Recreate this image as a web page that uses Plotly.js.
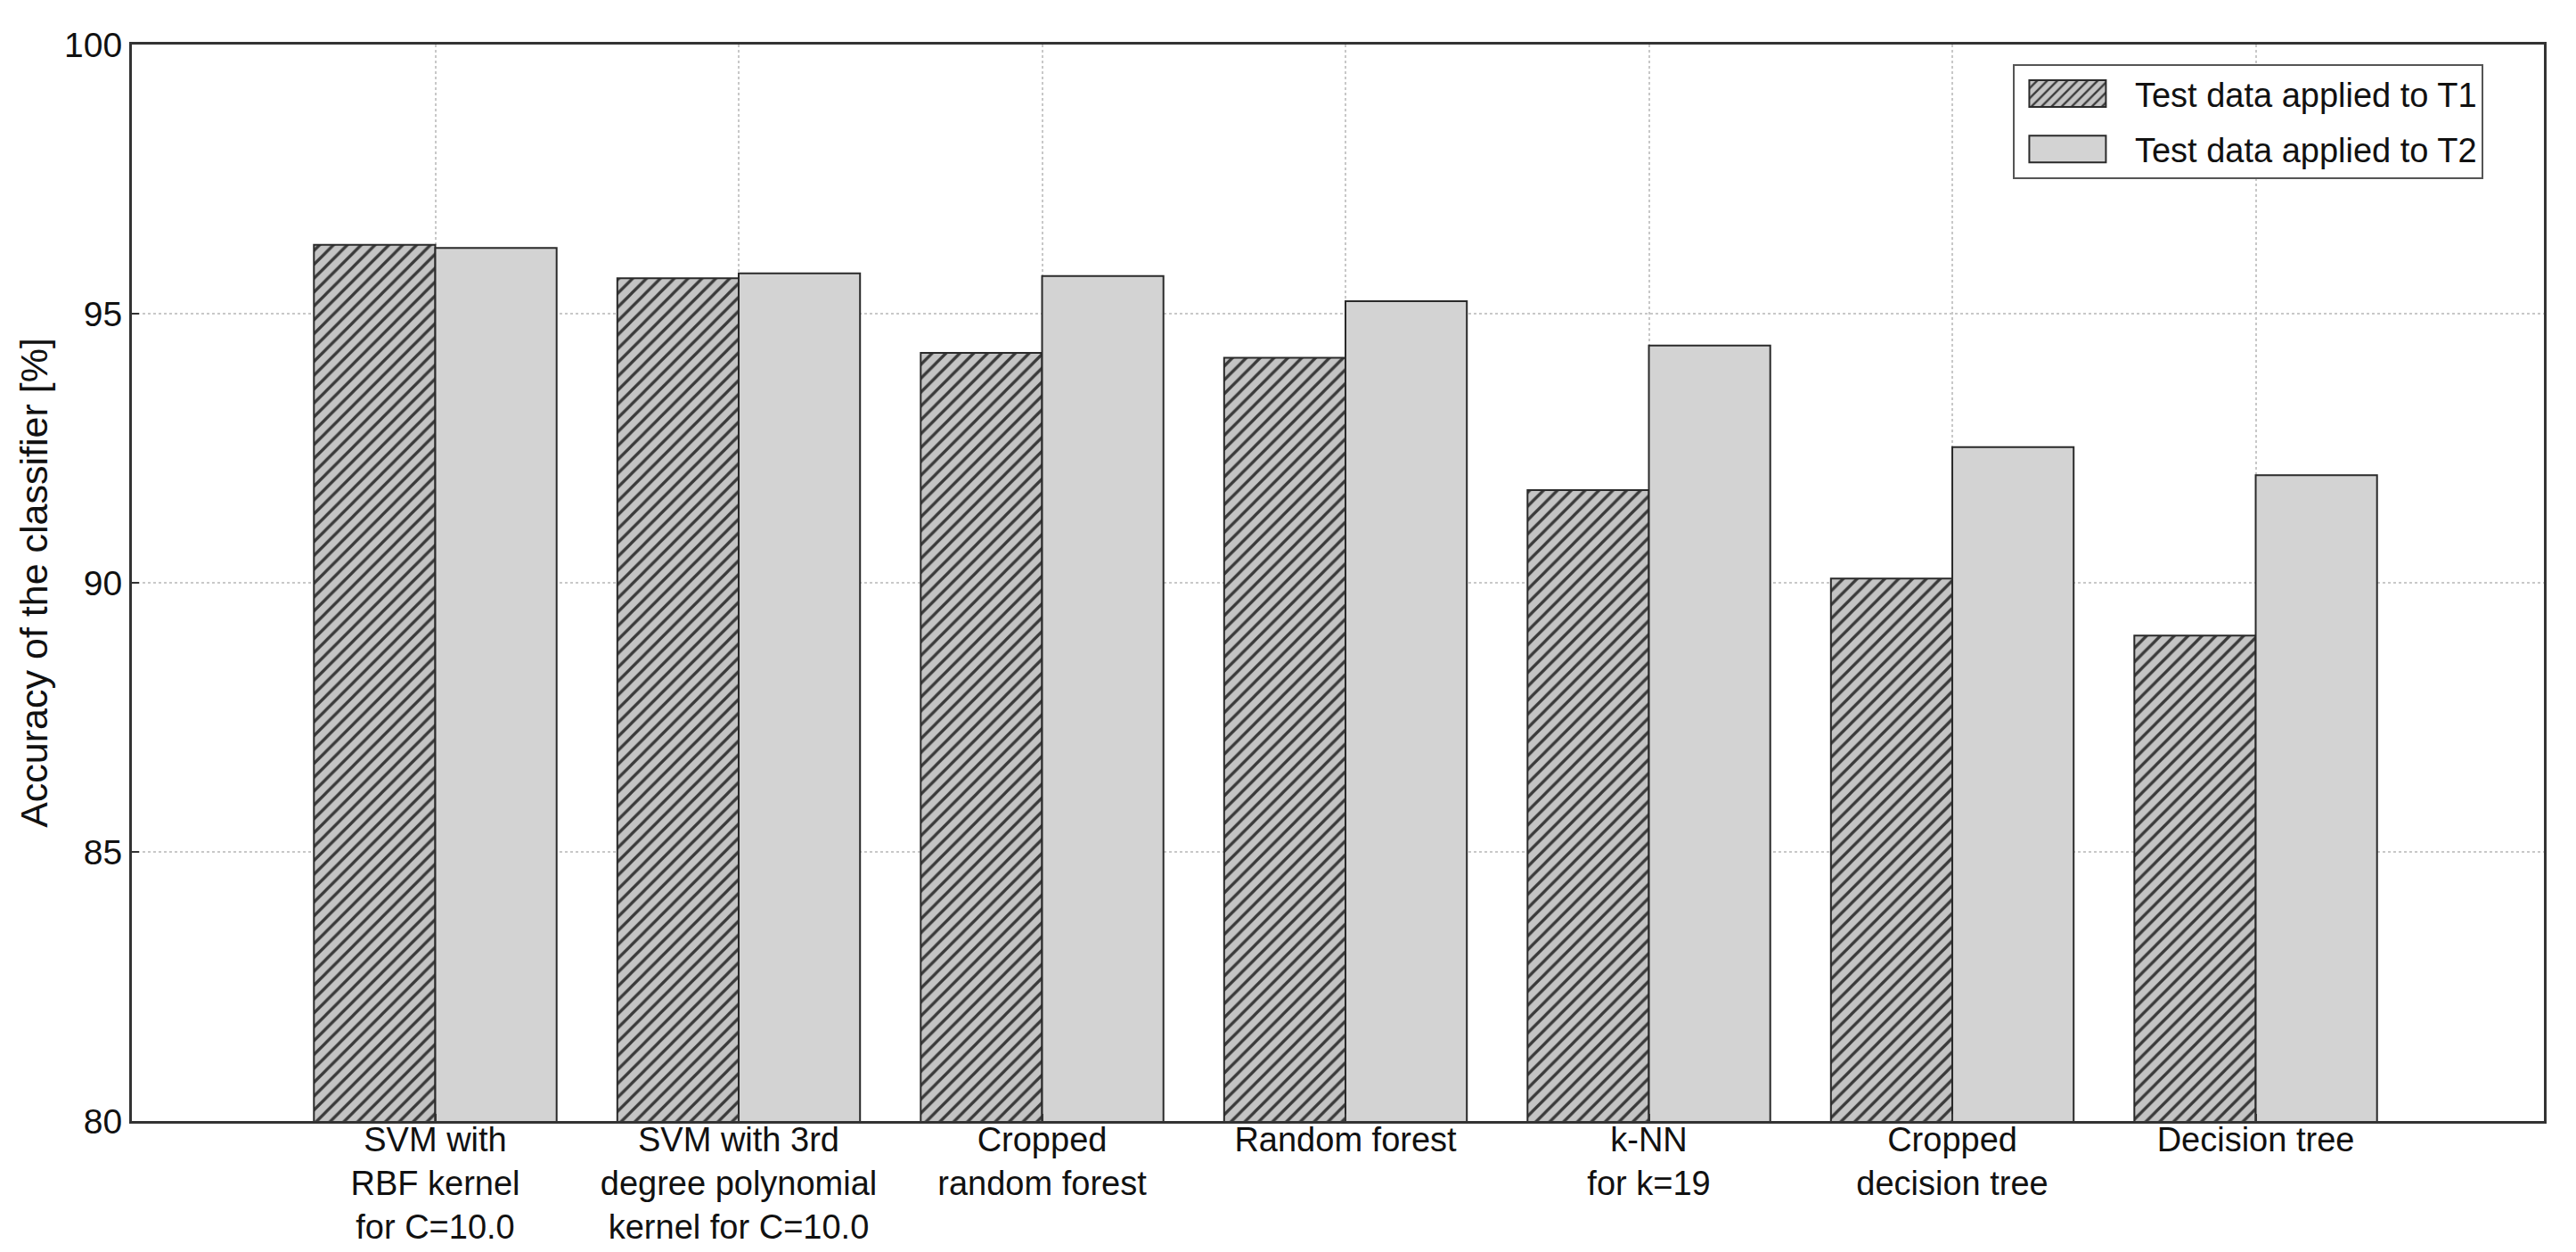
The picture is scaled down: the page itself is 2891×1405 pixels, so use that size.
<!DOCTYPE html>
<html>
<head>
<meta charset="utf-8">
<script src="https://cdn.plot.ly/plotly-3.0.1.min.js"></script>
<style>html,body{margin:0;padding:0;background:#fff;}#chart{width:2891px;height:1405px;}</style>
</head>
<body>
<div id="chart"></div>
<script>
// Data
const categories = ["SVM RBF", "SVM poly3", "Cropped RF", "Random forest", "k-NN", "Cropped DT", "Decision tree"];
const tickLabels = [
  "SVM with<br>RBF kernel<br>for C=10.0",
  "SVM with 3rd<br>degree polynomial<br>kernel for C=10.0",
  "Cropped<br>random forest",
  "Random forest",
  "k-NN<br>for k=19",
  "Cropped<br>decision tree",
  "Decision tree"
];
const seriesNames = ["Test data applied to T1", "Test data applied to T2"];
const t1Values = [96.28, 95.66, 94.27, 94.18, 91.72, 90.08, 89.02];
const t2Values = [96.22, 95.75, 95.70, 95.23, 94.41, 92.52, 92.00];
const yTicks = [80, 85, 90, 95, 100];

const FONT = '"Liberation Sans", Arial, Helvetica, sans-serif';

const traces = [
  {
    type: 'bar', name: seriesNames[0], x: categories, y: t1Values,
    legendgroup: 'g1',
    marker: {
      color: '#c4c4c4',
      line: {color: '#2a2a2a', width: 2},
      pattern: {shape: '/', fgcolor: '#3a3a3a', bgcolor: '#c4c4c4', size: 11, solidity: 0.3}
    },
    hoverinfo: 'skip'
  },
  {
    type: 'bar', name: seriesNames[1], x: categories, y: t2Values,
    legendgroup: 'g2',
    marker: {color: '#d3d3d3', line: {color: '#2a2a2a', width: 2}},
    hoverinfo: 'skip'
  }
];

const layout = {
  width: 2891, height: 1405,
  paper_bgcolor: '#ffffff', plot_bgcolor: '#ffffff',
  margin: {l: 148, r: 36, t: 50, b: 147, pad: 0},
  font: {family: FONT, size: 38, color: '#111'},
  barmode: 'group', bargap: 0.2, bargroupgap: 0,
  showlegend: true,
  legend: {
    x: 0.7798, y: 0.982, xanchor: 'left', yanchor: 'top',
    bgcolor: '#ffffff', bordercolor: '#555', borderwidth: 2,
    font: {family: FONT, size: 38, color: '#111'},
    itemwidth: 125, traceorder: 'grouped', tracegroupgap: 10
  },
  xaxis: {
    type: 'category',
    categoryorder: 'array', categoryarray: categories,
    tickvals: categories, ticktext: tickLabels,
    range: [-1.0, 6.95],
    showgrid: true, gridcolor: '#c8c8c8', gridwidth: 2, griddash: 'dot',
    showline: true, linecolor: '#333', linewidth: 3, mirror: true,
    ticks: 'inside', ticklen: 8, tickwidth: 2, tickcolor: '#333',
    ticklabelstandoff: -15,
    tickfont: {family: FONT, size: 38, color: '#111'},
    zeroline: false, fixedrange: true
  },
  yaxis: {
    range: [80, 100], tickvals: yTicks, ticktext: yTicks.map(String),
    showgrid: true, gridcolor: '#c8c8c8', gridwidth: 2, griddash: 'dot',
    showline: true, linecolor: '#333', linewidth: 3, mirror: true,
    ticks: 'inside', ticklen: 8, tickwidth: 2, tickcolor: '#333',
    tickfont: {family: FONT, size: 39, color: '#111'},
    zeroline: false,
    title: {text: 'Accuracy of the classifier [%]', font: {family: FONT, size: 43, color: '#111'}, standoff: 6},
    fixedrange: true
  }
};

Plotly.newPlot('chart', traces, layout, {staticPlot: true, displayModeBar: false}).then(function (gd) {
  // widen the legend swatches (keep Plotly's own transform and pattern fill)
  const paths = gd.querySelectorAll('.legend .legendpoints path');
  paths.forEach(function (p) {
    p.setAttribute('d', 'M35,15H-51V-15H35Z');
    p.style.strokeWidth = '2px';
  });
});
</script>
</body>
</html>
